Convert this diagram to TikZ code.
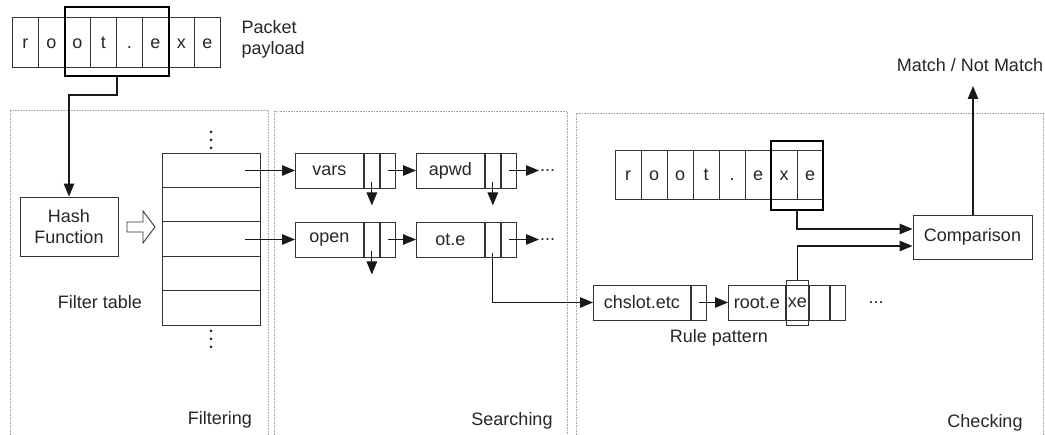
\documentclass[tikz,border=0pt]{standalone}
\usepackage{fontspec}
\setmainfont{Liberation Sans}
\usetikzlibrary{arrows.meta,calc}

\tikzset{
  txt/.style={font=\fontsize{18}{21}\selectfont, text=black!85},
  box/.style={draw=black!80, line width=0.9pt, inner sep=0pt, txt},
  pcell/.style={box, minimum width=26pt, minimum height=50pt, text height=12.5pt, text depth=0pt},
  hilite/.style={draw=black, line width=2pt, inner sep=0pt},
  thinhl/.style={draw=black!80, line width=0.9pt, inner sep=0pt},
  panel/.style={draw=black!35, line width=0.6pt, densely dotted},
  arr/.style={draw=black!90, line width=1.1pt, -{Triangle[length=13pt,width=10.5pt]}},
  dot/.style={fill=black!85, circle, inner sep=0pt, minimum size=3pt},
  more/.style={txt, anchor=west, inner sep=1pt},
}

\begin{document}
\begin{tikzpicture}[x=1pt,y=-1pt]
\useasboundingbox (0,0) rectangle (1045,435);

% stage panels
\draw[panel] (10,435) -- (10,110) -- (268,110) -- (268,435);
\draw[panel] (274,435) -- (274,111) -- (567,111) -- (567,435);
\draw[panel] (576,435) -- (576,113) -- (1043,113) -- (1043,435);

% packet payload
\foreach \c [count=\i] in {r,o,o,t,.,e,x,e}
  \node[pcell] (p\i) at ({12.3+26*(\i-0.5)},42) {\c};
\node[hilite, minimum width=104pt, minimum height=69pt] (hlp) at (117,41.5) {};
\node[txt, align=left, anchor=west] (plabel) at (238,39) {Packet\\payload};

% hash function
\node[box, minimum width=98pt, minimum height=59pt, align=center] (hash) at (69,226.5) {Hash\\Function};
\draw[arr] (hlp.south) -- ++(0,18) -| (hash.north);

% hollow arrow into the filter table
\draw[draw=black!80, line width=0.9pt, fill=white]
  (127,222) -- (143,222) -- (143,211) -- (155,227) -- (143,243) -- (143,232) -- (127,232) -- cycle;

% filter table
\foreach \i in {1,...,5}
  \node[box, minimum width=98pt, minimum height=34.4pt] (f\i) at (211,{153+34.4*(\i-0.5)}) {};
\foreach \yy in {132,140,148,331,339,347}
  \node[dot] at (211,\yy) {};
\node[txt] (ftlabel) at (100,302) {Filter table};
\node[txt] (filtering) at (220,420) {Filtering};

% hash chains in the searching stage
\foreach \nm/\lab/\xx/\yy in {vars/vars/295/170.5, apwd/apwd/416/170.5, open/open/295/239.5, ote/ot.e/416/239.5}{
  \node[box, minimum width=68pt, minimum height=35pt, anchor=west] (\nm) at (\xx,\yy) {\lab};
  \node[box, minimum width=15pt, minimum height=35pt, anchor=west] (\nm1) at (\nm.east) {};
  \node[box, minimum width=15pt, minimum height=35pt, anchor=west] (\nm2) at (\nm1.east) {};
}
\coordinate (f1p) at ($(f1.center)+(34,0)$);
\coordinate (f3p) at ($(f3.center)+(34,0)$);
\draw[arr] (f1p |- vars.west) -- (vars.west);
\draw[arr] (f3p |- open.west) -- (open.west);
\draw[arr] (vars2.center) -- (apwd.west);
\draw[arr] (open2.center) -- (ote.west);
\node[more] (more1) at (539,170.5) {...};
\node[more] (more2) at (539,239.5) {...};
\draw[arr] (apwd2.center) -- (more1.west |- apwd2.center);
\draw[arr] (ote2.center) -- (more2.west |- ote2.center);
\draw[arr] ($(vars1.south)+(0,-6)$) -- ++(0,23);
\draw[arr] ($(apwd1.south)+(0,-6)$) -- ++(0,23);
\draw[arr] ($(open1.south)+(0,-6)$) -- ++(0,23);
\node[txt] (searching) at (512,421) {Searching};

% rule patterns in the checking stage
\node[box, minimum width=97pt, minimum height=35pt, anchor=west] (chs) at (593,302.5) {chslot.etc};
\node[box, minimum width=15pt, minimum height=35pt, anchor=west] (chs1) at (chs.east) {};
\node[box, minimum width=57pt, minimum height=35pt, anchor=west] (re) at (728,302.5) {root.e};
\node[box, minimum width=22pt, minimum height=35pt, anchor=west] (re1) at (re.east) {xe};
\node[box, minimum width=20pt, minimum height=35pt, anchor=west] (re2) at (re1.east) {};
\node[box, minimum width=15pt, minimum height=35pt, anchor=west] (re3) at (re2.east) {};
\node[thinhl, minimum width=22pt, minimum height=45pt] (hlr) at (re1.center) {};
\node[txt] (rulelabel) at (719,338) {Rule pattern};
\node[txt, inner sep=1pt] (more3) at (876,303) {...};
\draw[arr] ($(ote1.south)+(0,-4)$) |- (chs.west);
\draw[arr] (chs1.center) -- (re.west);

% payload copy and comparison
\foreach \c [count=\i] in {r,o,o,t,.,e,x,e}
  \node[pcell, minimum height=49pt] (q\i) at ({615+26*(\i-0.5)},174.5) {\c};
\node[hilite, minimum width=52pt, minimum height=69pt] (hlq) at (797,175.5) {};
\node[box, minimum width=119pt, minimum height=44pt] (cmp) at (972.5,237) {Comparison};
\draw[arr] (hlq.south) |- ($(cmp.west)+(0,-8)$);
\draw[arr] (hlr.north) |- ($(cmp.west)+(0,9)$);
\coordinate (result) at (973,86);
\draw[arr] (cmp.north -| result) -- (result);
\node[txt] (match) at (970,65) {Match / Not Match};
\node[txt] (checking) at (985,423) {Checking};
\end{tikzpicture}
\end{document}
